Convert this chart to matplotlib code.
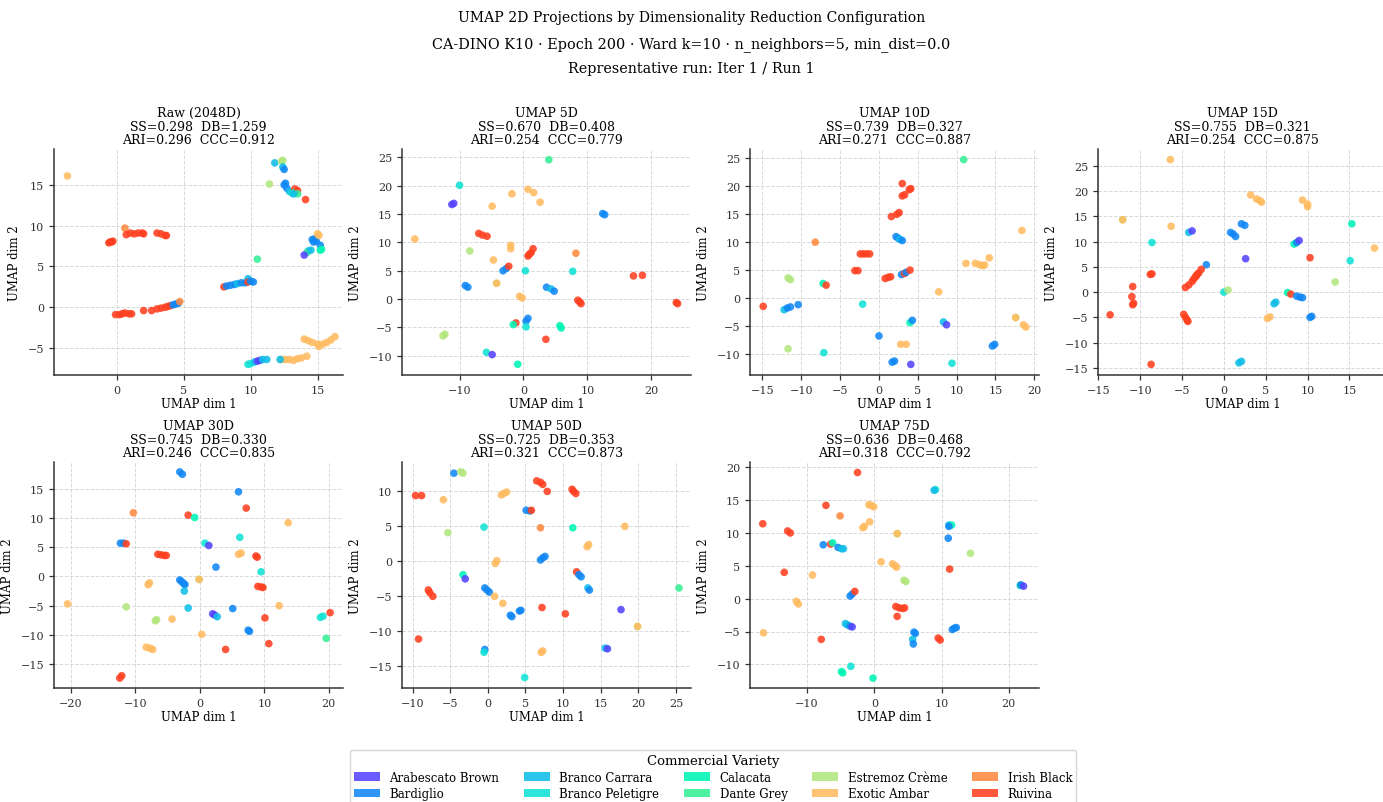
import matplotlib
matplotlib.use("Agg")
import matplotlib.pyplot as plt
from matplotlib.patches import Patch

plt.rcParams['font.family'] = ['DejaVu Serif']

# ---------------- data ----------------
varieties = ["Arabescato Brown", "Bardiglio", "Branco Carrara", "Branco Peletigre",
             "Calacata", "Dante Grey", "Estremoz Crème", "Exotic Ambar",
             "Irish Black", "Ruivina"]
variety_colors = ["#5544FF", "#1188F5", "#10BEE8", "#10E2D4", "#00F5B4",
                  "#35EE95", "#B2E67E", "#FFBB60", "#FF8A40", "#FF4020"]

panel_titles = ["Raw (2048D)", "UMAP 5D", "UMAP 10D", "UMAP 15D",
                "UMAP 30D", "UMAP 50D", "UMAP 75D"]
ss = [0.298, 0.670, 0.739, 0.755, 0.745, 0.725, 0.636]
db = [1.259, 0.408, 0.327, 0.321, 0.330, 0.353, 0.468]
ari = [0.296, 0.254, 0.271, 0.254, 0.246, 0.321, 0.318]
ccc = [0.912, 0.779, 0.887, 0.875, 0.835, 0.873, 0.792]

# Raw (2048D)
raw_x = [-3.7, -0.6, -0.5, -0.3, -0.4, 0.6, 0.7, 1.0, 1.3, 1.6, 1.9, 2.0, 3.0, 3.3, 3.7, 3.6,
         -0.1, 0.2, 0.4, 0.6, 0.9, 1.1, 2.0, 2.6, 3.0, 3.3, 3.6, 3.8, 4.0, 4.2, 4.4, 4.6, 4.7,
         8.0, 8.2, 8.5, 8.8, 9.0, 9.3, 9.6, 9.8, 9.8, 10.0, 10.2, 10.5,
         11.8, 12.3, 12.4, 12.4, 12.5, 11.4, 12.5, 12.6, 12.7, 12.9, 13.1, 13.3, 13.3, 13.5, 13.5, 13.2, 14.1,
         14.6, 14.7, 14.8, 14.9, 15.0, 15.1, 15.2, 15.2, 15.3, 14.3, 14.2, 14.0, 14.5,
         14.0, 14.3, 14.6, 15.0, 15.1, 15.4, 15.7, 16.0, 16.3, 14.2,
         12.3, 12.6, 12.9, 13.2, 13.5, 13.8, 12.2, 9.8, 10.0, 10.3, 10.5, 10.7, 10.9, 11.2]
raw_y = [16.1, 7.9, 8.0, 8.1, 8.0, 9.7, 8.9, 9.1, 9.0, 9.1, 9.1, 9.0, 9.1, 9.0, 8.8, 8.8,
         -0.9, -0.9, -0.8, -0.7, -0.8, -0.8, -0.4, -0.4, -0.2, -0.1, 0.0, 0.1, 0.2, 0.3, 0.4, 0.5, 0.7,
         2.5, 2.6, 2.7, 2.8, 2.9, 3.0, 3.0, 3.5, 3.1, 3.2, 3.1, 5.9,
         17.7, 17.9, 18.0, 17.2, 16.9, 15.1, 15.0, 15.2, 14.6, 14.2, 14.0, 14.5, 14.1, 14.3, 13.9, 13.9, 13.2,
         8.3, 8.0, 8.4, 8.1, 9.0, 8.8, 7.6, 7.0, 7.1, 6.9, 6.7, 6.4, 7.0,
         -3.9, -4.1, -4.3, -4.5, -4.8, -4.5, -4.3, -4.0, -3.6, -6.0,
         -6.4, -6.4, -6.4, -6.5, -6.3, -6.2, -6.4, -7.0, -6.9, -6.7, -6.6, -6.5, -6.4, -6.4]
raw_c = [7, 9, 9, 9, 9, 8, 9, 9, 9, 9, 9, 9, 9, 9, 9, 9,
         9, 9, 9, 9, 9, 9, 9, 9, 9, 9, 9, 9, 9, 1, 1, 1, 8,
         9, 1, 1, 1, 2, 1, 1, 2, 9, 1, 1, 5,
         2, 6, 6, 2, 1, 6, 1, 1, 1, 2, 3, 9, 4, 9, 5, 2, 9,
         1, 1, 1, 1, 7, 7, 1, 4, 4, 2, 5, 0, 2,
         7, 7, 7, 7, 7, 7, 7, 7, 7, 7,
         7, 7, 7, 7, 7, 7, 2, 3, 3, 2, 0, 0, 2, 2]

# UMAP 5D
u5_x = [3.96, -10.0, -11.2, -10.9, -1.8, 0.7, 1.6, 2.6, -4.9, 12.4, 12.7, -17.0,
        -7.0, -6.4, -5.7, -8.4, -2.0, -2.0, -4.7, 0.7, 0.9, 1.2, 1.5, 8.2,
        -3.2, -2.7, -2.3, 0.3, 7.7, 17.2, 18.6, -9.1, -8.7, -4.2, -4.2,
        -0.6, -0.2, 3.6, 4.3, 4.8, 8.5, 8.8, 9.0, 23.9, 24.1,
        0.4, 0.7, 0.4, -1.2, -1.6, 5.7, 5.9, 3.5, -12.3, -12.6, -5.8, -4.9, -0.9]
u5_y = [24.6, 20.1, 16.7, 16.9, 18.6, 19.4, 18.8, 17.1, 16.4, 15.1, 14.9, 10.6,
        11.6, 11.3, 11.1, 8.5, 9.5, 8.9, 6.9, 7.6, 7.9, 8.2, 8.9, 8.1,
        5.0, 5.4, 5.8, 5.0, 4.9, 4.1, 4.2, 2.4, 2.1, 2.8, 2.8,
        0.5, 0.2, 2.1, 1.8, 1.4, -0.2, -0.5, -0.8, -0.6, -0.8,
        -3.9, -3.4, -4.9, -4.2, -4.5, -4.7, -5.1, -7.1, -6.2, -6.5, -9.4, -9.8, -11.5]
u5_c = [5, 3, 0, 0, 7, 7, 7, 7, 7, 1, 1, 7,
        9, 9, 9, 6, 7, 7, 7, 9, 9, 9, 9, 8,
        1, 1, 9, 3, 3, 9, 9, 1, 1, 6, 7,
        7, 7, 1, 2, 1, 9, 9, 9, 9, 9,
        1, 1, 3, 9, 4, 4, 4, 9, 6, 6, 3, 0, 4]

# UMAP 10D
u10_x = [10.9, 3.0, 3.9, 4.1, 3.0, 3.3, 1.6, 2.3, 2.6, 2.2, 2.5, 2.7, 3.0, -8.2,
         -2.4, -2.0, -1.6, -1.2, 18.4, 11.2, 12.4, 12.9, 13.3, 13.6, 14.2,
         -3.1, -2.7, 0.8, 1.2, 1.5, 2.9, 3.3, 3.5, 4.0, -11.7, -11.4, -7.2, -6.8,
         7.7, -2.1, -14.9, -12.2, -11.8, -11.4, -10.4, 4.0, 4.3, 8.3, 8.7,
         17.6, 17.6, 18.6, 18.9, 0.0, 2.8, 3.5, 14.6, 14.9, -11.7, -7.1,
         1.7, 2.0, 4.1, 9.4]
u10_y = [24.8, 20.5, 19.4, 19.6, 18.3, 18.5, 14.6, 15.0, 15.3, 11.0, 10.7, 10.5, 10.3, 10.0,
         7.9, 7.9, 7.9, 7.9, 12.1, 6.2, 6.2, 6.0, 5.8, 5.9, 7.2,
         4.9, 4.9, 3.5, 3.7, 3.8, 4.2, 4.4, 4.6, 5.0, 3.6, 3.3, 2.6, 2.3,
         1.1, -1.1, -1.5, -2.1, -1.8, -1.6, -1.2, -4.4, -4.0, -4.3, -4.8,
         -3.5, -3.5, -4.8, -5.2, -6.8, -8.3, -8.3, -8.6, -8.3, -9.1, -9.8,
         -11.5, -11.3, -11.9, -11.7]
u10_c = [5, 9, 9, 9, 9, 9, 9, 9, 9, 1, 1, 2, 1, 8,
         9, 9, 9, 9, 7, 7, 7, 7, 7, 7, 7,
         9, 9, 9, 9, 9, 1, 9, 1, 9, 6, 6, 4, 9,
         7, 3, 9, 2, 1, 1, 1, 4, 1, 2, 0,
         6, 7, 7, 7, 1, 7, 7, 1, 1, 6, 3,
         1, 1, 0, 3]

# UMAP 15D
u15_x = [-6.4, 3.2, 3.9, 4.3, 4.5, 9.4, 10.0, 10.0, -12.1, -12.1, -6.3, 15.3,
         2.1, 2.5, 0.8, 1.1, 1.4, -4.2, -3.8, -8.6, 8.4, 8.7, 9.0, 18.0, 2.6, 10.3, 15.1,
         -2.1, -2.7, -3.0, -3.2, -3.3, -3.4, -3.6, -3.8, -4.2, -4.6, -8.6, -8.8,
         -10.9, -11.0, -10.9, -10.8, 13.3, 0.0, 0.5, 7.6, 8.0, 8.7, 9.1, 9.4,
         6.0, 6.2, -13.6, -4.8, -4.6, -4.4, -4.3, 5.2, 5.5, 10.3, 10.5, 1.8, 2.1, -8.7]
u15_y = [26.2, 19.2, 18.4, 18.1, 17.8, 18.2, 17.4, 16.9, 14.3, 14.3, 13.0, 13.5,
         13.5, 13.2, 11.8, 11.5, 11.0, 11.8, 12.1, 9.8, 9.5, 9.8, 10.2, 8.7, 6.6, 6.8, 6.2,
         5.4, 4.5, 3.8, 3.5, 3.2, 3.0, 2.6, 2.1, 1.4, 0.9, 3.6, 3.5,
         1.1, -0.9, -2.5, -2.2, 2.0, 0.0, 0.4, -0.1, -0.4, -0.8, -1.0, -1.1,
         -2.3, -2.0, -4.5, -4.4, -5.0, -5.5, -5.8, -5.2, -4.9, -5.0, -4.8, -14.0, -13.7, -14.3]
u15_c = [7, 7, 7, 7, 7, 7, 7, 7, 6, 7, 7, 4,
         1, 1, 1, 1, 1, 2, 0, 3, 4, 1, 0, 7, 0, 9, 3,
         1, 9, 9, 9, 9, 9, 9, 9, 9, 9, 9, 9,
         9, 9, 9, 9, 6, 3, 6, 4, 9, 1, 1, 1,
         2, 2, 9, 9, 9, 9, 9, 7, 7, 1, 1, 2, 2, 9]

# UMAP 30D
u30_x = [-3.1, -2.7, 6.0, 7.2, -10.3, -1.8, -0.8, 13.7, 6.2, -12.3, -11.8, -11.4,
         0.8, 1.4, -6.5, -6.0, -5.5, -5.2, 6.0, 6.4, 8.7, 8.9, 2.5, 9.5,
         -3.1, -2.8, -2.5, -2.3, -0.1, -0.1, -7.8, -8.0, 9.0, 9.5, 9.8, -2.4, -20.5, -11.4,
         12.3, -1.8, 5.1, 2.0, 2.3, 2.7, -6.7, -6.9, -4.3, 10.1, 18.7, 19.1, 20.2,
         7.5, 7.7, 0.3, 19.6, 10.7, -8.3, -7.7, -7.3, 4.0, -12.4, -12.1]
u30_y = [17.9, 17.5, 14.5, 11.7, 10.9, 10.5, 10.1, 9.2, 6.7, 5.7, 5.7, 5.6,
         5.7, 5.3, 3.8, 3.7, 3.6, 3.6, 3.8, 4.0, 3.5, 3.3, 1.6, 0.8,
         -0.6, -0.9, -1.2, -1.4, -0.5, -0.5, -1.1, -1.4, -1.7, -1.8, -1.9, -2.5, -4.7, -5.2,
         -5.0, -5.4, -5.5, -6.4, -6.6, -6.9, -7.4, -7.6, -7.3, -7.1, -7.0, -6.8, -6.2,
         -9.2, -9.4, -9.9, -10.6, -11.5, -12.1, -12.3, -12.5, -12.5, -17.4, -17.0]
u30_c = [1, 1, 1, 9, 8, 9, 4, 7, 3, 1, 1, 9,
         3, 0, 9, 9, 9, 9, 7, 7, 9, 9, 1, 3,
         1, 1, 1, 1, 6, 7, 7, 7, 9, 9, 9, 2, 7, 6,
         7, 2, 1, 0, 0, 2, 6, 6, 7, 9, 3, 3, 9,
         1, 1, 7, 5, 9, 7, 7, 7, 9, 9, 9]

# UMAP 50D
u50_x = [-4.5, -3.6, -3.3, -9.6, -8.8, -5.9, 1.8, 2.1, 2.5, 6.5, 7.0, 7.3, 7.9,
         11.2, 11.4, 11.7, 5.1, 5.6, 5.8, -0.5, 7.0, 11.3, 18.2, -5.3, 13.2, 13.4,
         1.0, 1.2, 7.0, 7.3, 7.6, -3.3, -3.0, 11.8, 12.1, 12.4, -7.9, -7.7, -7.3,
         -0.4, -0.1, 0.2, 0.9, 2.0, 13.3, 13.5, 7.2, 3.0, 3.2, 4.2, 4.4, 10.3,
         17.7, 19.9, 19.9, 25.4, -9.2, -0.4, -0.5, 7.1, 7.3, 15.6, 15.9, 4.9]
u50_y = [12.5, 12.7, 12.5, 9.3, 9.3, 8.7, 9.4, 9.6, 9.8, 11.4, 11.2, 10.9, 9.9,
         10.2, 9.9, 9.6, 7.2, 7.1, 7.2, 4.8, 4.7, 4.7, 4.9, 4.0, 2.0, 2.3,
         -0.4, 0.0, 0.1, 0.4, 0.6, -2.0, -2.6, -1.6, -2.0, -2.3, -4.2, -4.6, -5.1,
         -3.9, -4.2, -4.5, -5.1, -6.1, -3.9, -4.2, -6.7, -7.8, -8.0, -7.2, -7.1, -7.6,
         -7.0, -9.4, -9.4, -3.9, -11.2, -12.7, -13.1, -13.1, -12.9, -12.5, -12.6, -16.7]
u50_c = [1, 6, 6, 9, 9, 7, 7, 7, 7, 9, 9, 9, 9,
         9, 9, 9, 1, 1, 9, 3, 8, 4, 7, 6, 7, 7,
         7, 7, 1, 1, 1, 4, 0, 9, 1, 1, 9, 9, 9,
         1, 1, 1, 7, 7, 2, 1, 9, 1, 1, 1, 1, 9,
         0, 6, 7, 5, 9, 1, 3, 7, 7, 2, 0, 3]

# UMAP 75D
u75_x = [-2.5, 9.1, 8.9, -7.2, -5.1, -0.8, -0.5, -0.1, -1.7, -1.5, -0.7, -16.6,
         -12.9, -12.5, 3.4, 3.4, 11.1, 11.5, 11.1, 11.0, -7.6, -6.5, -6.2, -5.4, -4.9, -4.6,
         14.3, 1.0, 2.7, 3.1, 3.3, 11.2, -13.4, -9.2, 4.4, 4.7, 21.7, 21.8, 22.2,
         -11.6, -11.3, -3.6, -3.3, -2.9, 3.2, 3.7, 4.2, 4.5, 3.4,
         -4.3, -4.0, -3.6, -3.3, 5.9, 6.1, 5.7, 5.8, 11.6, 11.9, 12.2, 9.5, 9.8,
         -16.5, -7.9, -4.9, -4.7, -3.5, -0.2]
u75_y = [19.2, 16.6, 16.5, 14.2, 12.6, 14.3, 14.2, 14.0, 10.8, 11.0, 11.7, 11.4,
         10.3, 10.0, 9.9, 9.9, 11.2, 11.2, 11.0, 9.2, 8.2, 8.3, 8.5, 7.8, 7.6, 7.6,
         6.9, 5.6, 5.3, 5.0, 4.8, 4.5, 4.0, 3.6, 2.8, 2.6, 2.0, 2.1, 1.9,
         -0.4, -0.8, 0.4, 0.7, 1.1, -1.2, -1.4, -1.5, -1.4, -2.7,
         -3.8, -4.0, -4.2, -4.3, -5.1, -5.3, -6.2, -6.9, -4.7, -4.5, -4.4, -6.0, -6.3,
         -5.2, -6.2, -11.1, -11.3, -10.3, -12.1]
u75_c = [9, 3, 2, 9, 8, 7, 7, 7, 7, 7, 7, 9,
         9, 9, 6, 7, 2, 4, 1, 1, 1, 9, 4, 1, 2, 2,
         6, 7, 7, 7, 7, 9, 9, 7, 6, 6, 4, 1, 0,
         7, 7, 1, 1, 9, 9, 9, 9, 9, 9,
         2, 2, 1, 0, 1, 1, 2, 1, 1, 1, 1, 9, 9,
         7, 9, 4, 4, 3, 4]

panel_x = [raw_x, u5_x, u10_x, u15_x, u30_x, u50_x, u75_x]
panel_y = [raw_y, u5_y, u10_y, u15_y, u30_y, u50_y, u75_y]
panel_c = [raw_c, u5_c, u10_c, u15_c, u30_c, u50_c, u75_c]

# ---------------- layout ----------------
W, H = 1383, 803
fig = plt.figure(figsize=(W / 100, H / 100), dpi=100)

col_left = [54, 402, 750, 1098]
row_top = [150, 463]
ax_w, ax_h = 289, 226
xlims = [(-4.7, 16.9), (-19.0, 26.2), (-16.6, 20.6), (-15.05, 19.5),
         (-22.6, 22.2), (-11.4, 27.0), (-18.5, 24.5)]
ylims = [(-8.3, 19.4), (-13.4, 26.5), (-13.8, 26.7), (-16.4, 28.3),
         (-19.1, 19.6), (-18.2, 14.1), (-13.6, 20.8)]

for i in range(7):
    r, c = divmod(i, 4)
    left = col_left[c] / W
    bottom = 1 - (row_top[r] + ax_h) / H
    ax = fig.add_axes([left, bottom, ax_w / W, ax_h / H])
    cols = [variety_colors[k] for k in panel_c[i]]
    ax.scatter(panel_x[i], panel_y[i], c=cols, s=30, alpha=0.88, linewidths=0, zorder=3)
    ax.set_xlim(*xlims[i])
    ax.set_ylim(*ylims[i])
    ax.grid(True, linestyle='--', color='#d0d0d0', linewidth=0.7, alpha=0.8, zorder=0)
    ax.set_axisbelow(True)
    for s in ['top', 'right']:
        ax.spines[s].set_visible(False)
    for s in ['left', 'bottom']:
        ax.spines[s].set_color('#333333')
        ax.spines[s].set_linewidth(1.1)
    ax.tick_params(labelsize=8, colors='#333333', length=3.5, width=0.9)
    ax.set_xlabel("UMAP dim 1", fontsize=8.5, labelpad=2)
    ax.set_ylabel("UMAP dim 2", fontsize=8.5, labelpad=5)
    ax.set_title(f"{panel_titles[i]}\nSS={ss[i]:.3f}  DB={db[i]:.3f}\nARI={ari[i]:.3f}  CCC={ccc[i]:.3f}",
                 fontsize=9, linespacing=1.05, pad=4)

fig.text(0.5, 1 - 18 / H, "UMAP 2D Projections by Dimensionality Reduction Configuration",
         ha='center', va='center', fontsize=10.1)
fig.text(0.5, 1 - 45 / H, "CA-DINO K10 · Epoch 200 · Ward k=10 · n_neighbors=5, min_dist=0.0",
         ha='center', va='center', fontsize=10.4)
fig.text(0.5, 1 - 69 / H, "Representative run: Iter 1 / Run 1",
         ha='center', va='center', fontsize=10.4)

handles = [Patch(facecolor=col, edgecolor='none', alpha=0.88, label=lab)
           for lab, col in zip(varieties, variety_colors)]
fig.legend(handles=handles, loc='upper center', bbox_to_anchor=(713 / W, 1 - 751 / H),
           ncol=5, title="Commercial Variety", fontsize=8.5, title_fontsize=9.5,
           frameon=True, edgecolor='#cccccc', columnspacing=2.1, handlelength=2.2,
           borderpad=0.35, labelspacing=0.3, handletextpad=0.8, borderaxespad=0.0)

fig.savefig("out.png", dpi=100)
